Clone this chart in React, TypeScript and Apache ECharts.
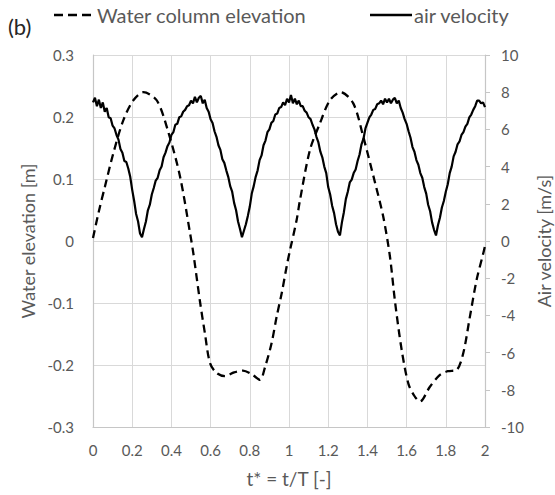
import React, { useEffect, useRef } from "react";
import * as echarts from "echarts";

// Water column elevation [m] (dashed), sampled along t* = t/T
const waterTime = [0, 0.03, 0.061, 0.104, 0.155, 0.206, 0.257, 0.325, 0.384, 0.444, 0.495, 0.512, 0.546, 0.571, 0.597, 0.631, 0.673, 0.72, 0.765, 0.81, 0.852, 0.878, 0.911, 0.937, 0.963, 0.988, 1.005, 1.039, 1.056, 1.107, 1.158, 1.209, 1.264, 1.328, 1.379, 1.439, 1.481, 1.515, 1.541, 1.575, 1.609, 1.64, 1.668, 1.719, 1.77, 1.81, 1.855, 1.889, 1.923, 1.957, 1.991, 2.0];
const waterElevation = [0.005, 0.048, 0.088, 0.142, 0.195, 0.227, 0.24, 0.227, 0.176, 0.104, 0.013, -0.02, -0.098, -0.149, -0.197, -0.213, -0.218, -0.212, -0.209, -0.215, -0.224, -0.203, -0.165, -0.122, -0.084, -0.041, -0.015, 0.034, 0.066, 0.147, 0.19, 0.227, 0.24, 0.222, 0.168, 0.094, 0.039, -0.025, -0.098, -0.176, -0.23, -0.25, -0.259, -0.235, -0.216, -0.21, -0.208, -0.181, -0.122, -0.063, -0.02, -0.008];

// Air velocity [m/s] (solid), one value every 0.01 of t* from 0 to 2
const airVelocity = [
  7.45, 7.7, 7.25, 7.6, 7.15, 7.45, 6.95, 7.15, 6.65, 6.6,
  6.2, 6.05, 5.7, 5.45, 4.95, 4.75, 4.3, 4.25, 3.9, 3.45,
  2.75, 2.15, 1.45, 1.05, 0.4, 0.2, 0.65, 1.05, 1.65, 1.95,
  2.5, 2.85, 3.25, 3.4, 3.8, 4.0, 4.5, 4.75, 5.1, 5.3,
  5.7, 5.85, 6.25, 6.3, 6.65, 6.7, 6.95, 7.05, 7.25, 7.3,
  7.55, 7.4, 7.75, 7.45, 7.7, 7.8, 7.4, 7.6, 7.15, 6.95,
  6.55, 6.35, 5.9, 5.6, 5.15, 4.9, 4.4, 4.2, 3.8, 3.45,
  2.95, 2.65, 2.05, 1.65, 1.05, 0.65, 0.2, 0.55, 0.9, 1.35,
  1.85, 2.55, 2.95, 3.45, 3.8, 4.35, 4.6, 5.15, 5.4, 5.85,
  6.0, 6.35, 6.45, 6.8, 6.85, 7.15, 7.2, 7.45, 7.3, 7.65,
  7.45, 7.85, 7.4, 7.65, 7.35, 7.55, 7.25, 7.25, 7.0, 6.9,
  6.65, 6.55, 6.25, 6.0, 5.6, 5.3, 4.8, 4.5, 4.0, 3.65,
  2.9, 2.5, 1.9, 1.5, 0.9, 0.5, 0.3, 1.0, 1.55, 2.25,
  2.65, 3.15, 3.3, 3.65, 3.85, 4.3, 4.65, 5.2, 5.5, 6.05,
  6.35, 6.65, 6.8, 7.05, 7.1, 7.35, 7.4, 7.55, 7.35, 7.65,
  7.45, 7.65, 7.4, 7.6, 7.7, 7.4, 7.55, 7.15, 6.9, 6.55,
  6.3, 5.9, 5.55, 5.05, 4.8, 4.35, 4.1, 3.65, 3.4, 2.9,
  2.55, 1.95, 1.6, 1.0, 0.6, 0.3, 0.85, 1.25, 1.8, 2.15,
  2.65, 3.05, 3.65, 4.0, 4.55, 4.8, 5.2, 5.35, 5.7, 5.85,
  6.15, 6.3, 6.65, 6.8, 7.05, 7.25, 7.55, 7.55, 7.4, 7.45,
  7.2,
];
const airVelocityTime = airVelocity.map((_, i) => i / 100);

const legendWater = "Water column elevation";
const legendAir = "air velocity";
const panelLabel = "(b)";
const xName = "t* = t/T [-]";
const yLeftName = "Water elevation [m]";
const yRightName = "Air velocity [m/s]";

const FONT = "Lato, 'Open Sans', sans-serif";
const TXT = "#595959";
const GRID = "#d9d9d9";
const AXIS = "#c6c6c6";

export default function App() {
  const ref = useRef<HTMLDivElement>(null);
  useEffect(() => {
    if (!ref.current) return;
    const chart = echarts.init(ref.current, undefined, { renderer: "svg" });
    chart.setOption({
      animation: false,
      backgroundColor: "#ffffff",
      textStyle: { fontFamily: FONT },
      grid: { left: 93, right: 70, top: 55, bottom: 68, outerBoundsMode: "none", containLabel: false },
      xAxis: {
        type: "value",
        min: 0,
        max: 2,
        interval: 0.2,
        name: xName,
        nameLocation: "middle",
        nameGap: 42,
        nameTextStyle: { color: TXT, fontSize: 19, fontFamily: FONT },
        axisLine: { show: true, onZero: false, lineStyle: { color: AXIS, width: 1.2 } },
        axisTick: { show: false },
        axisLabel: { color: TXT, fontSize: 15, margin: 15, fontFamily: FONT },
        splitLine: { show: true, lineStyle: { color: GRID, width: 1 } },
      },
      yAxis: [
        {
          type: "value",
          min: -0.3,
          max: 0.3,
          interval: 0.1,
          name: yLeftName,
          nameLocation: "middle",
          nameRotate: 90,
          nameGap: 52,
          nameTextStyle: { color: TXT, fontSize: 18, fontFamily: FONT },
          axisLine: { show: true, onZero: false, lineStyle: { color: AXIS, width: 1.2 } },
          axisTick: { show: false },
          axisLabel: { color: TXT, fontSize: 15, margin: 19, fontFamily: FONT },
          splitLine: { show: true, lineStyle: { color: GRID, width: 1 } },
        },
        {
          type: "value",
          min: -10,
          max: 10,
          interval: 2,
          position: "right",
          name: yRightName,
          nameLocation: "middle",
          nameRotate: 90,
          nameGap: 50,
          nameTextStyle: { color: TXT, fontSize: 18, fontFamily: FONT },
          axisLine: { show: true, onZero: false, lineStyle: { color: AXIS, width: 1.2 } },
          axisTick: { show: true, inside: false, length: 5, lineStyle: { color: AXIS } },
          axisLabel: { color: TXT, fontSize: 15, margin: 16, fontFamily: FONT },
          splitLine: { show: false },
        },
      ],
      series: [
        {
          name: legendWater,
          type: "line",
          yAxisIndex: 0,
          data: waterTime.map((t, i) => [t, waterElevation[i]]),
          showSymbol: false,
          symbol: "none",
          smooth: 0.3,
          lineStyle: { color: "#000", width: 2.3, type: [8, 5] },
          z: 3,
        },
        {
          name: legendAir,
          type: "line",
          yAxisIndex: 1,
          data: airVelocityTime.map((t, i) => [t, airVelocity[i]]),
          showSymbol: false,
          symbol: "none",
          lineStyle: { color: "#000", width: 2.2 },
          z: 4,
        },
      ],
      graphic: [
        { type: "text", left: 8, top: 15, style: { text: panelLabel, fontSize: 22, fontFamily: FONT, fill: "#262626" } },
        { type: "line", shape: { x1: 54, y1: 15, x2: 93, y2: 15 }, style: { stroke: "#000", lineWidth: 2.5, lineDash: [9, 5] } },
        { type: "text", x: 97, y: 15, style: { text: legendWater, fontSize: 20, fontFamily: FONT, fill: TXT, verticalAlign: "middle", align: "left" } },
        { type: "line", shape: { x1: 370, y1: 15, x2: 412, y2: 15 }, style: { stroke: "#000", lineWidth: 2.5 } },
        { type: "text", x: 414, y: 15, style: { text: legendAir, fontSize: 20, fontFamily: FONT, fill: TXT, verticalAlign: "middle", align: "left" } },
      ],
    });
    return () => chart.dispose();
  }, []);
  return (
    <div
      ref={ref}
      style={{ position: "absolute", left: 0, top: 0, width: 555, height: 495, background: "#fff" }}
    />
  );
}
